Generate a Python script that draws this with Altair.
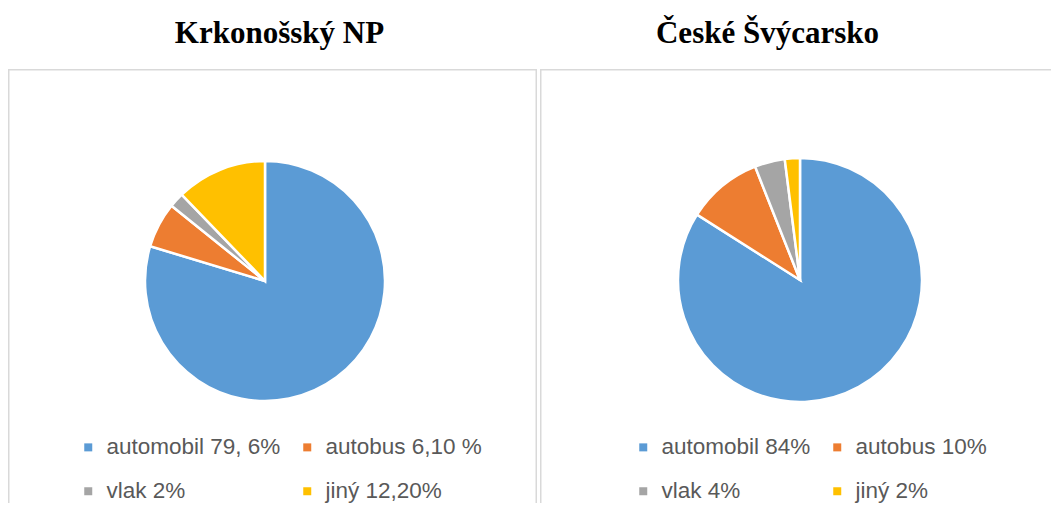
import altair as alt
import pandas as pd

# data
colors = ["#5B9BD5", "#ED7D31", "#A5A5A5", "#FFC000"]

kr_title = "Krkonošský NP"
kr_labels = ["automobil 79, 6%", "autobus 6,10 %", "vlak 2%", "jiný 12,20%"]
kr_values = [79.6, 6.1, 2.0, 12.2]

cs_title = "České Švýcarsko"
cs_labels = ["automobil 84%", "autobus 10%", "vlak 4%", "jiný 2%"]
cs_values = [84, 10, 4, 2]

H = 434
frame_df = pd.DataFrame({"frame": [0]})


def pie(title, labels, values, width, cx, cy, r, dx, lx, right_edge):
    df = pd.DataFrame({"label": labels, "value": values, "order": list(range(len(labels)))})
    arcs = (
        alt.Chart(df)
        .mark_arc(radius=r, stroke="white", strokeWidth=2.5)
        .encode(
            theta=alt.Theta("value:Q", stack=True),
            order=alt.Order("order:Q"),
            color=alt.Color(
                "label:N",
                sort=labels,
                scale=alt.Scale(domain=labels, range=colors),
                legend=alt.Legend(
                    orient="none",
                    legendX=lx,
                    legendY=367,
                    direction="horizontal",
                    columns=2,
                    title=None,
                ),
            ),
            x=alt.value(cx),
            y=alt.value(cy),
        )
    )
    # panel frame (clipped to the view so that the bottom edge, and the
    # right edge when asked, run past the visible area like the reference)
    frame = (
        alt.Chart(frame_df)
        .mark_rect(fillOpacity=0, stroke="#d9d9d9", strokeWidth=1.5, clip=True)
        .encode(
            x=alt.value(0.75),
            x2=alt.value(right_edge),
            y=alt.value(0.75),
            y2=alt.value(H + 20),
        )
    )
    return alt.layer(frame, arcs, title=alt.TitleParams(title, dx=dx)).properties(
        width=width, height=H
    )


left = pie(kr_title, kr_labels, kr_values, 529, 257, 212, 120, 7, 69, 529 - 0.75)
right = pie(cs_title, cs_labels, cs_values, 511, 260, 211, 122, -28, 92, 511 + 20)

chart = (
    alt.hconcat(left, right, spacing=3)
    .resolve_scale(color="independent")
    .resolve_legend(color="independent")
    .properties(padding={"top": 10, "left": 0, "right": 0, "bottom": 0})
    .configure_view(stroke=None)
    .configure_title(
        font="Liberation Serif",
        fontSize=31,
        fontWeight="bold",
        color="#000000",
        anchor="middle",
        baseline="alphabetic",
        offset=19,
    )
    .configure_legend(
        labelFont="Liberation Sans",
        labelFontSize=22.5,
        labelColor="#595959",
        symbolType="square",
        symbolSize=64,
        symbolStrokeWidth=0,
        labelOffset=7,
        rowPadding=21,
        columnPadding=15,
        labelLimit=0,
    )
)

chart.save("out.html", embed_options={"renderer": "svg", "actions": False})
